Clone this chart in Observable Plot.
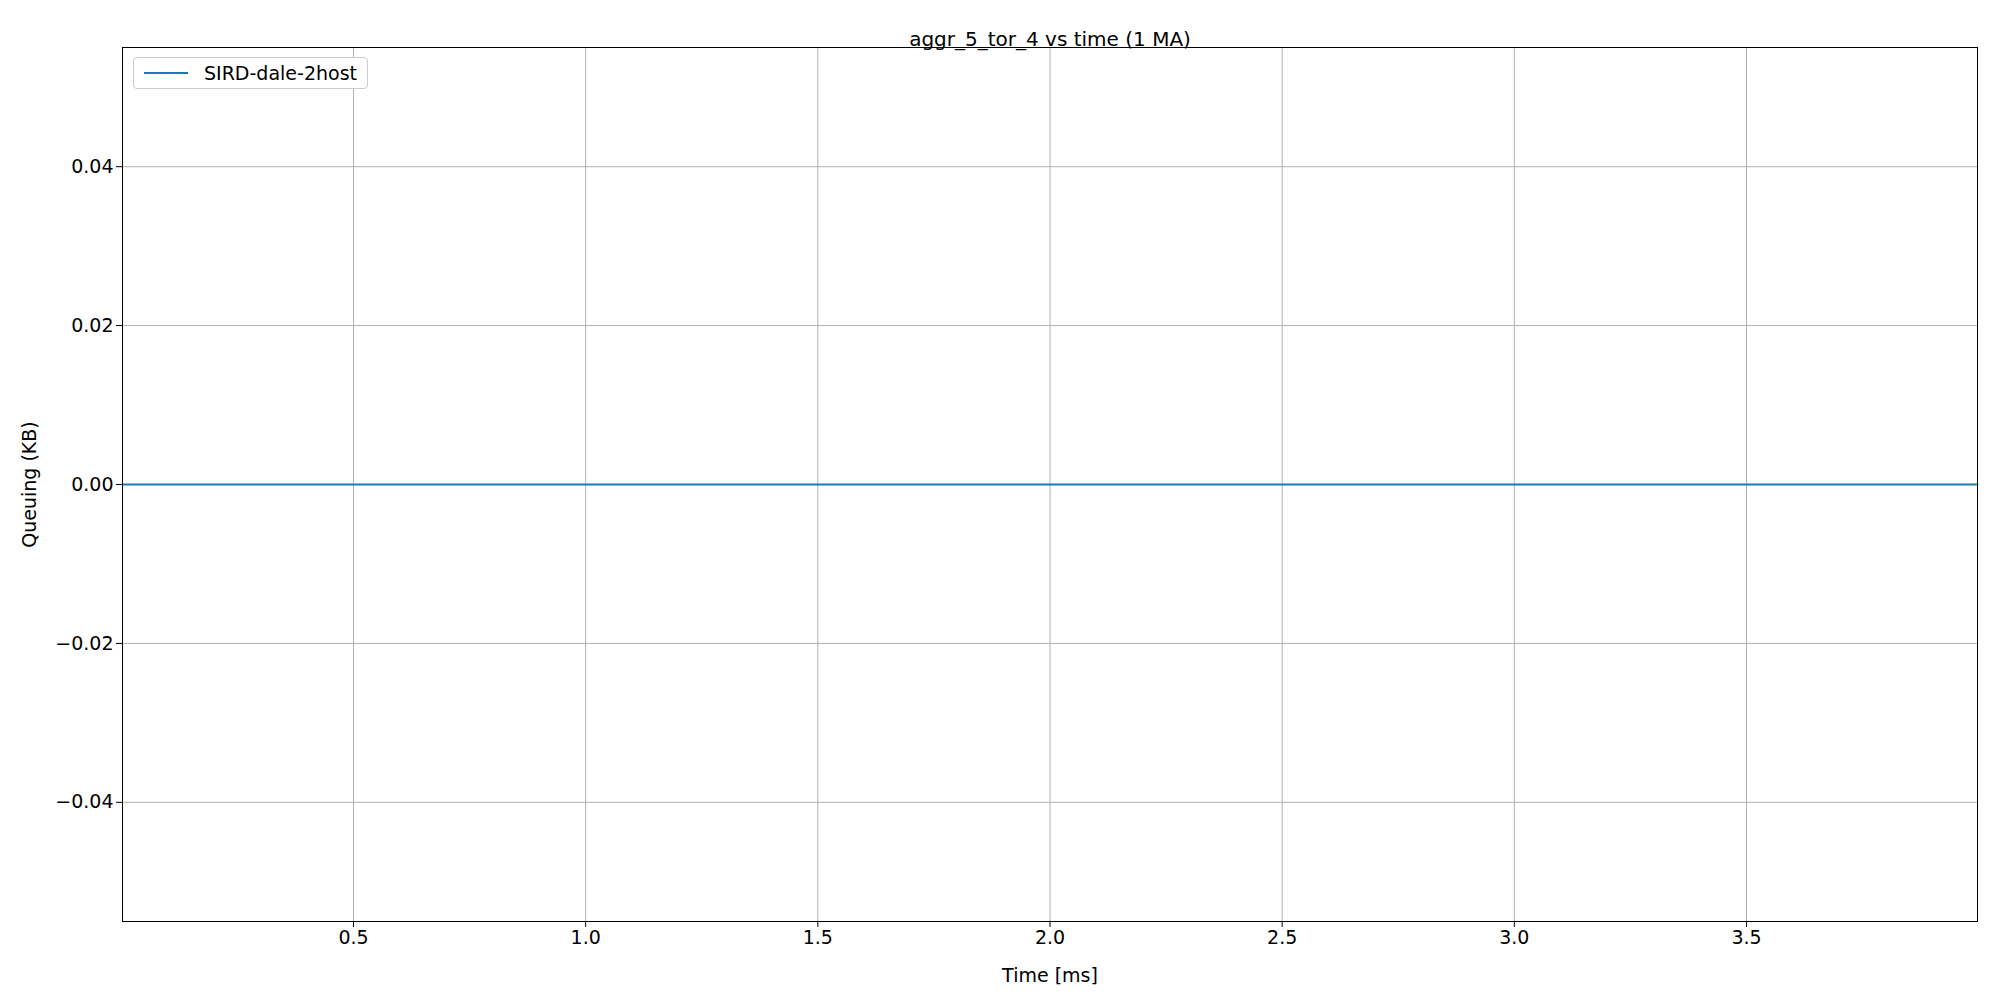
<!DOCTYPE html>
<html>
<head>
<meta charset="utf-8">
<script src="https://cdn.jsdelivr.net/npm/d3@7"></script>
<script src="https://cdn.jsdelivr.net/npm/@observablehq/plot@0.6"></script>
<style>
  body { margin: 0; background: #fff; font-family: "DejaVu Sans", sans-serif; }
  #chart { position: relative; width: 2000px; height: 1000px; }
  #legend { position: absolute; left: 133px; top: 57px; padding: 4px 10px; border: 1px solid #ccc;
            border-radius: 4px; background: #fff; font-size: 19px; display: flex; align-items: center; }
  #legend span.sw { display: inline-block; width: 44px; height: 2px; background: #1f77b4; margin-right: 16px; }
</style>
</head>
<body>
<div id="chart"><div id="legend"><span class="sw"></span>SIRD-dale-2host</div></div>
<script>
// queue samples (all zero)
const times = [0.0025, 0.5, 1.0, 1.5, 2.0, 2.5, 3.0, 3.5, 3.9975];
const queue = [0, 0, 0, 0, 0, 0, 0, 0, 0];
const xTicks = [0.5, 1.0, 1.5, 2.0, 2.5, 3.0, 3.5];
const yTicks = [-0.04, -0.02, 0, 0.02, 0.04];

const data = times.map((t, i) => ({t, q: queue[i]}));

let chart = Plot.plot({
  width: 2000,
  height: 1000,
  marginLeft: 122,
  marginRight: 23,
  marginTop: 47,
  marginBottom: 79,
  style: {fontFamily: "DejaVu Sans", fontSize: 19, color: "#000"},
  x: {domain: [0.0025, 3.9975], ticks: xTicks, tickFormat: ".1f", label: "Time [ms]", labelAnchor: "center", labelArrow: "none", labelOffset: 60, tickSize: 6},
  y: {domain: [-0.055, 0.055], ticks: yTicks, tickFormat: ".2f", label: "Queuing (KB)", labelAnchor: "center", labelArrow: "none", labelOffset: 100, tickSize: 6},
  marks: [
    Plot.gridX(xTicks, {stroke: "#b0b0b0", strokeOpacity: 1, strokeWidth: 1}),
    Plot.gridY(yTicks, {stroke: "#b0b0b0", strokeOpacity: 1, strokeWidth: 1}),
    Plot.line(data, {x: "t", y: "q", stroke: "#1f77b4", strokeWidth: 2}),
    Plot.frame({stroke: "#000"}),
    Plot.text(["aggr_5_tor_4 vs time (1 MA)"], {frameAnchor: "top", dy: -16, fontSize: 20, fill: "#000"})
  ]
});
document.getElementById("chart").prepend(chart);
</script>
</body>
</html>
